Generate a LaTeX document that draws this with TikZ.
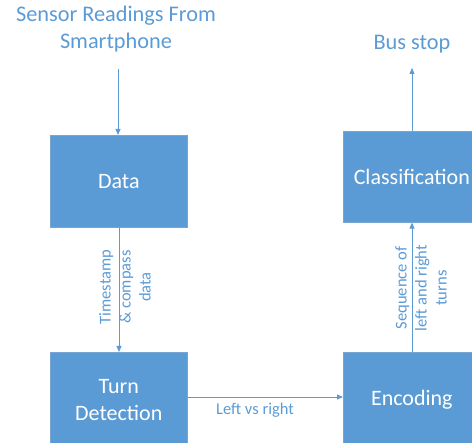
\documentclass[tikz,border=0pt]{standalone}
\usepackage{fontspec}
\setmainfont{Carlito}
\usetikzlibrary{arrows.meta}
\definecolor{obl}{RGB}{91,155,213}
\definecolor{obd}{RGB}{120,165,210}
\tikzset{
  box/.style={draw=obd, line width=0.6pt, fill=obl, text=white, font=\fontsize{22}{27}\selectfont, align=center, anchor=north west, inner sep=0pt},
  conn/.style={draw=obl, line width=0.8pt, -{Triangle[length=6pt,width=5pt]}},
  lab/.style={text=obl, font=\fontsize{16.5}{20}\selectfont, align=center, inner sep=0pt},
  big/.style={text=obl, font=\fontsize{22.3}{27}\selectfont, align=center, inner sep=0pt}
}
\begin{document}
\begin{tikzpicture}[x=1pt,y=-1pt]
\useasboundingbox (0,0) rectangle (472,443);
\node[box, minimum width=137pt, minimum height=92pt] (data) at (50,135) {Data};
\node[box, minimum width=137pt, minimum height=95pt] (turn) at (50,352) {Turn\\Detection};
\node[box, minimum width=137pt, minimum height=91pt] (cls) at (343,131) {Classification};
\node[box, minimum width=137pt, minimum height=95pt] (enc) at (343,352) {Encoding};
\node[big] (sensor) at (116,29) {Sensor Readings From\\Smartphone};
\node[big] (bus) at (412,44) {Bus stop};
\coordinate (sensorend) at (118,69);
\coordinate (busend) at (412,68);
\draw[conn] (sensorend) -- (118,135);
\draw[conn] (data.south -| 119,0) -- (turn.north -| 119,0);
\draw[conn] (turn.east |- 0,397) -- (enc.west |- 0,397);
\draw[conn] (enc.north -| 412,0) -- (cls.south -| 412,0);
\draw[conn] (cls.north -| 412,0) -- (busend);
\node[lab, rotate=90] (ts) at (125,287) {Timestamp\\\& compass\\data};
\node[lab, rotate=90] (seq) at (421,288) {Sequence of\\left and right\\turns};
\node[lab] (lr) at (255,410) {Left vs right};
\end{tikzpicture}
\end{document}
